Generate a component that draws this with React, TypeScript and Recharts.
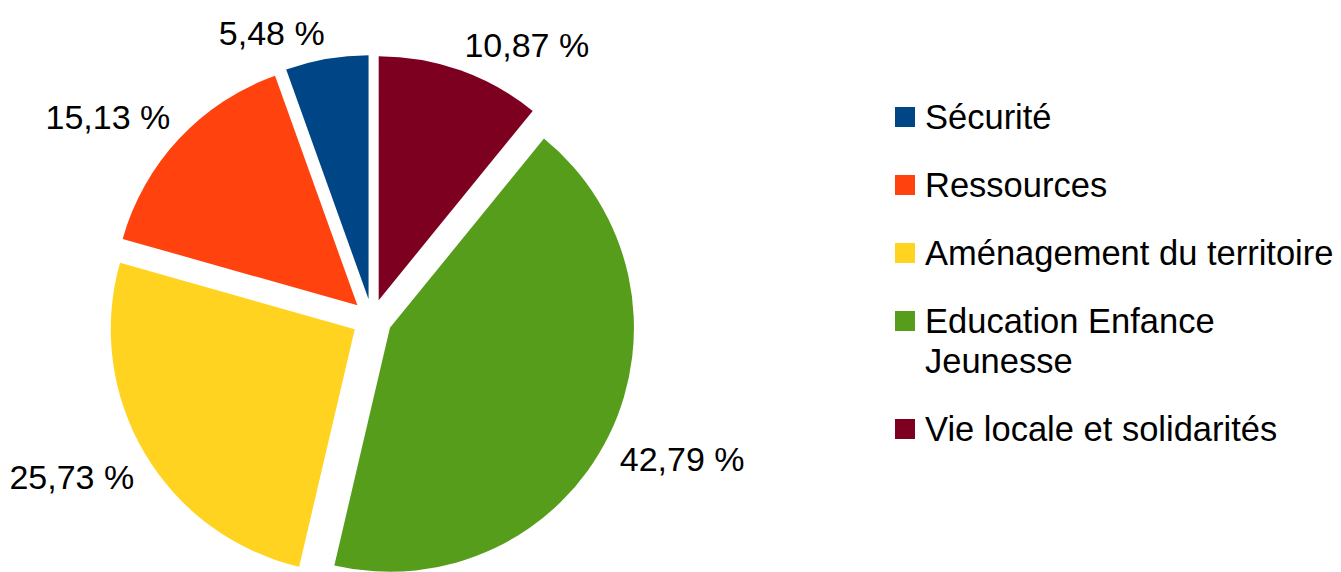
import { Cell, Legend, Pie, PieChart } from "recharts"

const categories = [
  "Sécurité",
  "Ressources",
  "Aménagement du territoire",
  "Education Enfance Jeunesse",
  "Vie locale et solidarités",
]
const shares = [5.48, 15.13, 25.73, 42.79, 10.87]
const colors = ["#004586", "#ff420e", "#ffd320", "#579d1c", "#7e0021"]

const data = categories.map((name, i) => ({ name, value: shares[i] }))

// pie geometry (page pixels)
const CX = 372
const CY = 319
const RADIUS = 244
const EXPLODE = 20
const LABEL_GAP = 12
const FONT = '"Liberation Sans", Arial, sans-serif'

const total = shares.reduce((a, b) => a + b, 0)
// slices run counter-clockwise from 12 o'clock, as recharts does with 90 -> 450
const midAngles = shares.map((v, i) => {
  const before = shares.slice(0, i).reduce((a, b) => a + b, 0)
  return 90 + (360 * (before + v / 2)) / total
})

const fmt = (v: number) => v.toFixed(2).replace(".", ",") + " %"

const renderLabel = (slice: number) => (props: any) => {
  if (props.index !== slice) return null
  const rad = (Math.PI / 180) * props.midAngle
  const dx = Math.cos(rad)
  const dy = -Math.sin(rad)
  const r = props.outerRadius + LABEL_GAP
  const x = props.cx + r * dx
  const y = props.cy + r * dy
  return (
    <text
      x={x}
      y={dy < 0 ? y - 2 : y + 30}
      textAnchor={dx < 0 ? "end" : "start"}
      fill="#000"
      fontSize={34}
      fontFamily={FONT}>
      {fmt(props.value)}
    </text>
  )
}

const LegendList = () => (
  <div style={{ fontFamily: FONT, fontSize: 34.5, lineHeight: "40px", color: "#000" }}>
    {categories.map((name, i) => (
      <div
        key={name}
        style={{ display: "flex", alignItems: "flex-start", marginBottom: 28 }}>
        <span
          style={{
            width: 20,
            height: 20,
            marginTop: 10,
            marginRight: 10,
            background: colors[i],
            flex: "none",
          }}
        />
        <span style={{ width: 416 }}>{name}</span>
      </div>
    ))}
  </div>
)

const App: React.FC = () => {
  return (
    <div style={{ position: "absolute", left: 0, top: 0, width: 1341, height: 572, background: "#fff" }}>
      <PieChart width={1341} height={572} margin={{ top: 0, right: 0, bottom: 0, left: 0 }}>
        {shares.map((_, slice) => {
          const rad = (Math.PI / 180) * midAngles[slice]
          return (
            <Pie
              key={slice}
              data={data}
              dataKey="value"
              nameKey="name"
              cx={CX + EXPLODE * Math.cos(rad)}
              cy={CY - EXPLODE * Math.sin(rad)}
              outerRadius={RADIUS}
              startAngle={90}
              endAngle={450}
              stroke="none"
              labelLine={false}
              label={renderLabel(slice)}
              isAnimationActive={false}>
              {data.map((d, j) => (
                <Cell
                  key={d.name}
                  fill={colors[j]}
                  fillOpacity={j === slice ? 1 : 0}
                />
              ))}
            </Pie>
          )
        })}
        <Legend
          layout="vertical"
          align="right"
          verticalAlign="top"
          content={() => <LegendList />}
          wrapperStyle={{ position: "absolute", left: 895, top: 97, width: 446 }}
        />
      </PieChart>
    </div>
  )
}

export default App
